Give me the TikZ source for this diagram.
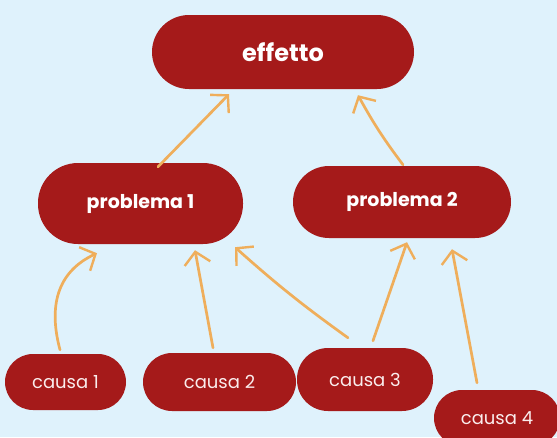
\documentclass[tikz,border=0pt]{standalone}
\usepackage{fontspec}
\setmainfont{Poppins}
\usetikzlibrary{arrows.meta}
\definecolor{bgblue}{HTML}{DFF2FC}
\definecolor{boxred}{HTML}{A51A1A}
\definecolor{arrorange}{HTML}{EFAE5B}
\definecolor{softwhite}{HTML}{FAEDED}
\tikzset{
  pill/.style={fill=boxred, text=white, inner sep=0pt, align=center},
  causebox/.style={pill, text=softwhite, font=\fontsize{18}{21}\selectfont},
  conn/.style={draw=arrorange, line width=2.7pt, line cap=round, line join=round,
    -{Straight Barb[length=12pt,width=26pt,line width=2.4pt]}},
}
\begin{document}
\begin{tikzpicture}[x=1pt,y=-1pt]
\fill[bgblue] (0,0) rectangle (557,437);
\useasboundingbox (0,0) rectangle (557,437);
% nodes
\node[pill, minimum width=262pt, minimum height=74pt, rounded corners=37pt,
  font=\fontsize{24}{28}\selectfont\bfseries] (eff) at (283,52) {effetto};
\node[pill, minimum width=205pt, minimum height=81pt, rounded corners=40pt,
  font=\fontsize{19}{22}\selectfont\bfseries] (p1) at (140.5,203.5) {problema 1};
\node[pill, minimum width=218pt, minimum height=72pt, rounded corners=36pt,
  font=\fontsize{19}{22}\selectfont\bfseries] (p2) at (402,202) {problema 2};
\node[causebox, minimum width=121pt, minimum height=56pt, rounded corners=28pt] (c1) at (65.5,382) {causa 1};
\node[causebox, minimum width=153pt, minimum height=58pt, rounded corners=29pt] (c2) at (219.5,382) {causa 2};
\node[causebox, minimum width=136pt, minimum height=63pt, rounded corners=31pt] (c3) at (365,379.5) {causa 3};
\node[causebox, minimum width=126pt, minimum height=56pt, rounded corners=28pt] (c4) at (497,418) {causa 4};
% connectors
\draw[conn] ([xshift=17.5pt,yshift=-4pt]p1.north) -- ([xshift=-54pt,yshift=-5pt]eff.south);
\draw[conn] ([xshift=1pt,yshift=1pt]p2.north) to[bend left=4] ([xshift=75pt,yshift=-6pt]eff.south);
\draw[conn] ([xshift=-5.5pt,yshift=4pt]c1.north) to[out=105,in=205,looseness=1.1] ([xshift=-43.5pt,yshift=-9pt]p1.south);
\draw[conn] ([xshift=-6.5pt,yshift=5pt]c2.north) -- ([xshift=54.5pt,yshift=-6pt]p1.south);
\draw[conn] ([xshift=-17pt,yshift=10pt]c3.north) to[bend left=3] ([xshift=94.5pt,yshift=-3pt]p1.south);
\draw[conn] ([xshift=8pt,yshift=7pt]c3.north) -- ([xshift=5pt,yshift=-4pt]p2.south);
\draw[conn] ([xshift=-20pt,yshift=7pt]c4.north) -- ([xshift=50pt,yshift=-11pt]p2.south);
\end{tikzpicture}
\end{document}
